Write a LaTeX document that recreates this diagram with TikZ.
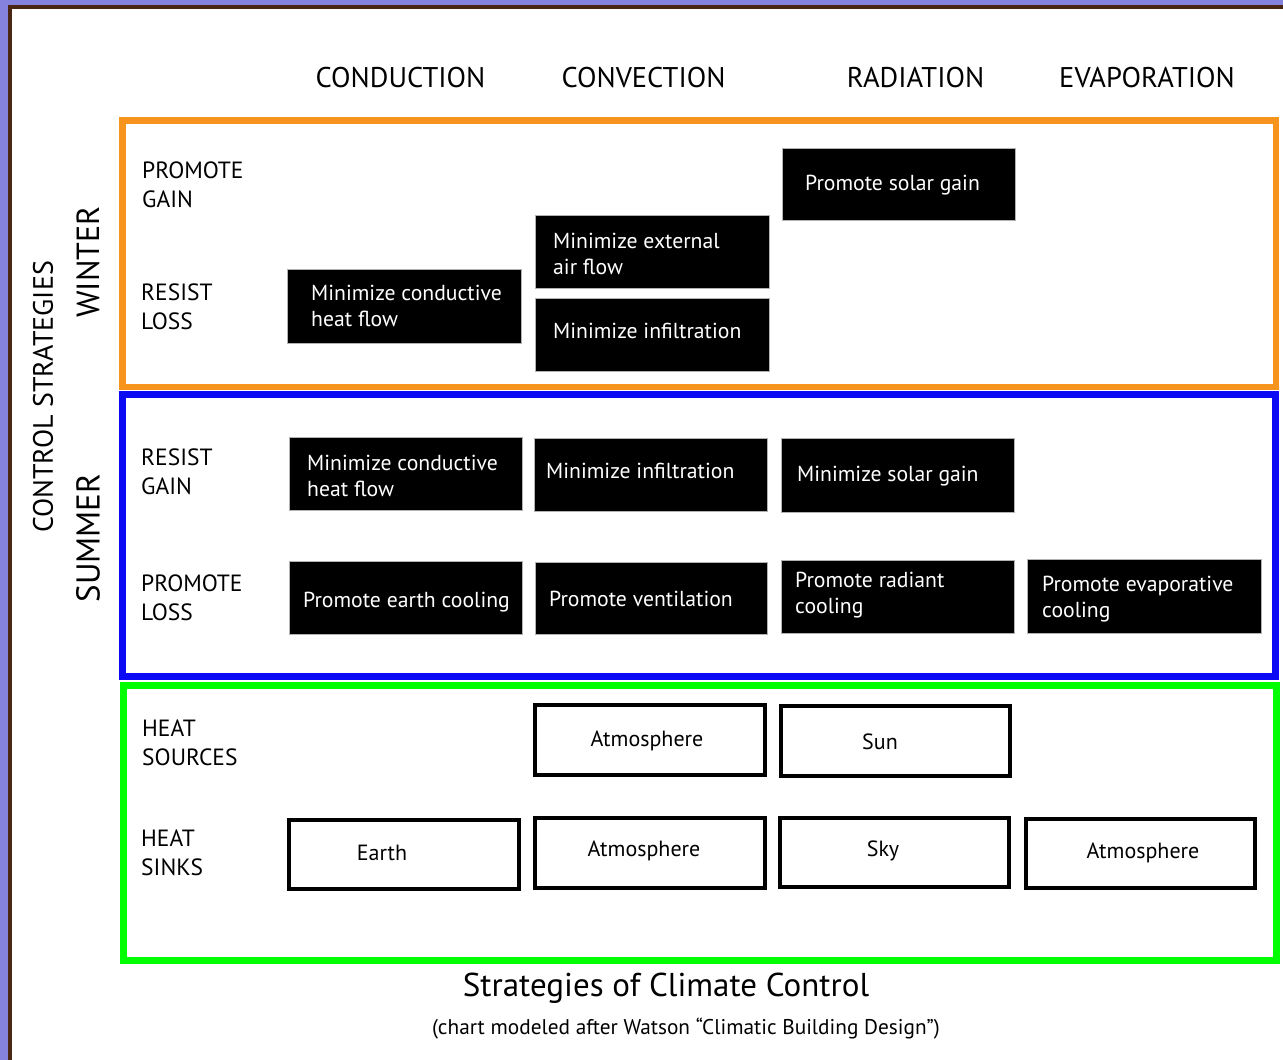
\documentclass[tikz,border=0pt]{standalone}
\usepackage{fontspec}
\setmainfont{PT Sans}
\definecolor{purp}{HTML}{8482DC}
\definecolor{brwn}{HTML}{4A2511}
\definecolor{orng}{HTML}{F7941D}
\definecolor{blu}{HTML}{0A0AF5}
\definecolor{grn}{HTML}{00FF00}
\newcommand{\fs}[2]{\fontsize{#1}{#2}\selectfont}
\begin{document}
\begin{tikzpicture}[x=1pt,y=-1pt,
  frame/.style={line width=7pt},
  blackbox/.style={fill=black,draw=gray!60,line width=0.8pt},
  whitebox/.style={draw=black,line width=4.4pt,fill=white},
  btxt/.style={text=white,anchor=west,align=left,inner sep=0pt,font=\fs{21.7}{26}},
  wtxt/.style={inner sep=0pt,font=\fs{22}{26}},
  rowlab/.style={anchor=west,align=left,inner sep=0pt,font=\fs{23.5}{29}},
  colhead/.style={inner sep=0pt,font=\fs{28.5}{32}},
  sidelab/.style={rotate=90,inner sep=0pt}]
\useasboundingbox (0,0) rectangle (1283,1060);
\fill[white] (0,0) rectangle (1283,1060);
% page border
\fill[purp] (0,0) rectangle (1283,5);
\fill[purp] (0,0) rectangle (8,1060);
\fill[brwn] (8,5) rectangle (1283,9);
\fill[brwn] (8,5) rectangle (12,1060);
% frames
\draw[frame,orng,line width=6.5pt] (122.5,120.5) rectangle (1276,387);
\draw[frame,blu] (122.5,394.5) rectangle (1275.5,676.5);
\draw[frame,grn] (123,685.5) rectangle (1276.5,960);
% column headers
\node[colhead] (h1) at (400.5,78) {CONDUCTION};
\node[colhead] (h2) at (643.5,78) {CONVECTION};
\node[colhead] (h3) at (915.5,78) {RADIATION};
\node[colhead] (h4) at (1147,78) {EVAPORATION};
% side labels
\node[sidelab,font=\fs{28}{32}] (cs) at (43,397) {CONTROL STRATEGIES};
\node[sidelab,font=\fs{32}{36}] (win) at (88,262) {WINTER};
\node[sidelab,font=\fs{33}{36}] (sum) at (88,538) {SUMMER};
% row labels
\node[rowlab] (r1) at (142,185) {PROMOTE\\GAIN};
\node[rowlab] (r2) at (141,306.5) {RESIST\\LOSS};
\node[rowlab] (r3) at (141,471.5) {RESIST\\GAIN};
\node[rowlab] (r4) at (141,597.5) {PROMOTE\\LOSS};
\node[rowlab] (r5) at (142,742.5) {HEAT\\SOURCES};
\node[rowlab] (r6) at (141,852.5) {HEAT\\SINKS};
% winter boxes
\path[blackbox] (782,148) rectangle (1015,220);
\node[btxt] (wpsg) at (805,185) {Promote solar gain};
\path[blackbox] (535,215) rectangle (769,288);
\node[btxt] (wmea) at (553,254) {Minimize external\\air flow};
\path[blackbox] (535,298) rectangle (769,371);
\node[btxt] (wmi) at (553,331) {Minimize infiltration};
\path[blackbox] (287,269) rectangle (521,343);
\node[btxt] (wmc) at (311,306) {Minimize conductive\\heat flow};
% summer boxes
\path[blackbox] (289,437) rectangle (522,510);
\node[btxt] (smc) at (307,476) {Minimize conductive\\heat flow};
\path[blackbox] (534,438) rectangle (767,511);
\node[btxt] (smi) at (546,471) {Minimize infiltration};
\path[blackbox] (781,438) rectangle (1014,512);
\node[btxt] (sms) at (797,476) {Minimize solar gain};
\path[blackbox] (289,561) rectangle (522,634);
\node[btxt] (spe) at (303,602) {Promote earth cooling};
\path[blackbox] (535,562) rectangle (767,634);
\node[btxt] (spv) at (549,599) {Promote ventilation};
\path[blackbox] (781,560) rectangle (1014,633);
\node[btxt] (spr) at (795,595.5) {Promote radiant\\cooling};
\path[blackbox] (1027,559) rectangle (1261,633);
\node[btxt] (spev) at (1042,599) {Promote evaporative\\cooling};
% heat sources / sinks
\draw[whitebox] (535,705) rectangle (765,775);
\node[wtxt] (src1) at (647,741) {Atmosphere};
\draw[whitebox] (781,706) rectangle (1010,776);
\node[wtxt] (src2) at (880,742) {Sun};
\draw[whitebox] (289,820) rectangle (519,889);
\node[wtxt] (snk1) at (382,853) {Earth};
\draw[whitebox] (535,818) rectangle (765,888);
\node[wtxt] (snk2) at (644,851) {Atmosphere};
\draw[whitebox] (780,818) rectangle (1009,887);
\node[wtxt] (snk3) at (883,851) {Sky};
\draw[whitebox] (1026,819) rectangle (1255,888);
\node[wtxt] (snk4) at (1143,853) {Atmosphere};
% title
\node[inner sep=0pt,font=\fs{33}{36}] (title) at (666,988) {Strategies of Climate Control};
\node[inner sep=0pt,font=\fs{21.3}{24}] (sub) at (686,1029) {(chart modeled after Watson “Climatic Building Design”)};
\end{tikzpicture}
\end{document}
